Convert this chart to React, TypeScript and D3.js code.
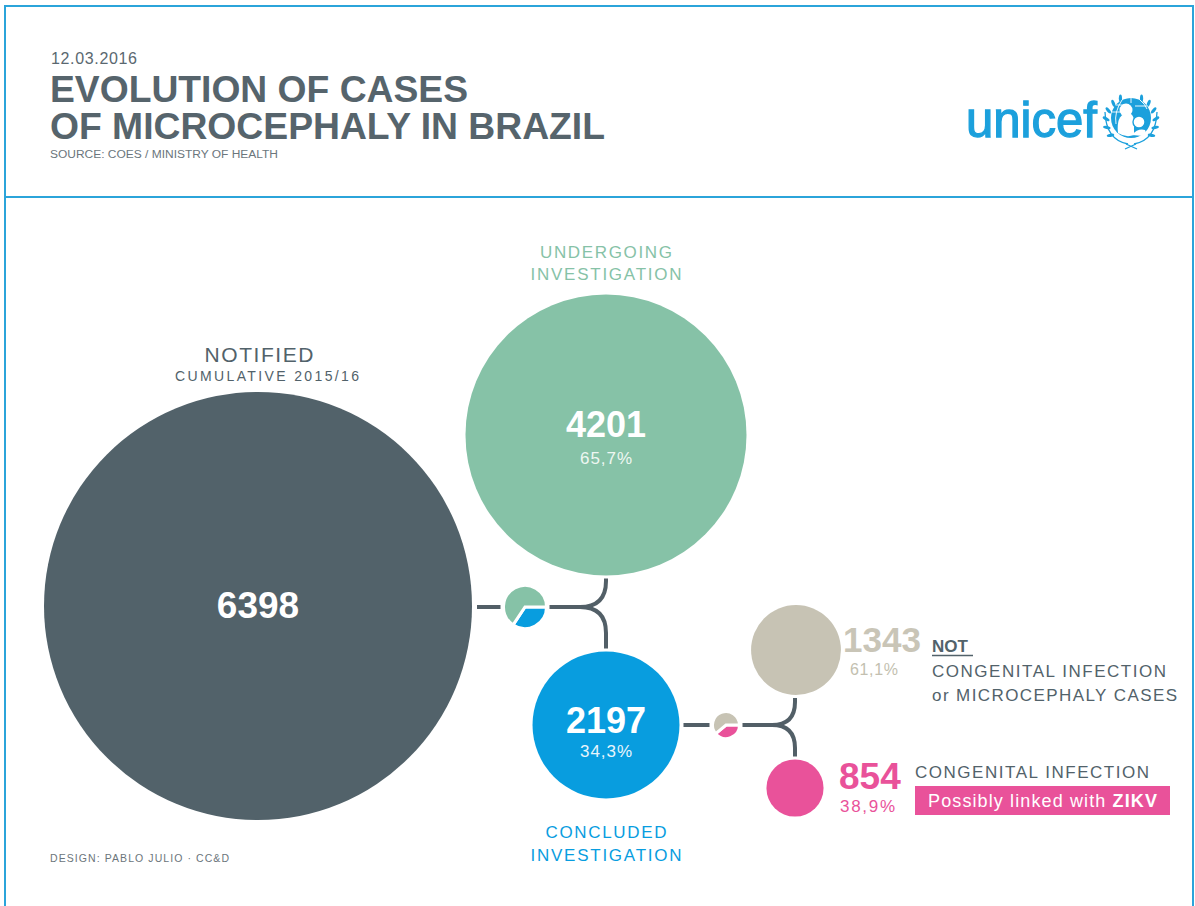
import React from 'react';
import * as d3 from 'd3';

const categories = ['NOTIFIED', 'UNDERGOING INVESTIGATION', 'CONCLUDED INVESTIGATION', 'NOT CONGENITAL INFECTION', 'CONGENITAL INFECTION'];
const caseValues = [6398, 4201, 2197, 1343, 854];
const percentLabels = ['', '65,7%', '34,3%', '61,1%', '38,9%'];

const W = 1195;
const H = 906;
const FONT = '"Liberation Sans", Arial, Helvetica, sans-serif';
const DARK = '#52626a';
const LINE = '#525f67';
const BORDER = '#2ba4da';
const UNICEF = '#1ca0dc';
const colors = ['#52626a', '#86c2a7', '#089ddf', '#c7c3b4', '#e9529a'];
const centers: [number, number][] = [[258, 606], [606, 435], [606, 725], [796, 650], [795, 788]];

const rScale = d3.scaleLinear().domain([0, d3.max(caseValues) as number]).range([0, 214]);

const pieGen = d3.pie<number>().sort(null).startAngle(Math.PI / 2).endAngle(Math.PI / 2 + 2 * Math.PI);

const MiniPie = ({ cx, cy, radius, idx }: { cx: number; cy: number; radius: number; idx: number[] }) => {
  const arcs = pieGen(idx.map(i => caseValues[i]));
  const arc = d3.arc<d3.PieArcDatum<number>>().innerRadius(0).outerRadius(radius);
  return (
    <g transform={`translate(${cx},${cy})`}>
      {arcs.map((a, k) => (
        <path key={k} d={arc(a) || ''} fill={colors[idx[k]]} stroke="#fff" strokeWidth={3} strokeLinejoin="miter" />
      ))}
    </g>
  );
};

const forkPath = (x0: number, jx: number, y: number, ex: number, yUp: number, yDown: number) => {
  const p = d3.path();
  const k = ex - jx;
  p.moveTo(x0, y);
  p.lineTo(jx, y);
  p.quadraticCurveTo(ex, y, ex, y - k);
  p.lineTo(ex, yUp);
  p.moveTo(jx, y);
  p.quadraticCurveTo(ex, y, ex, y + k);
  p.lineTo(ex, yDown);
  return p.toString();
};

const Emblem = ({ cx, cy }: { cx: number; cy: number }) => {
  const leaves = d3.range(6);
  return (
    <g transform={`translate(${cx},${cy})`} fill={UNICEF}>
      {[-1, 1].map(s => (
        <g key={s} transform={`scale(${s},1)`}>
          <path d="M -3 26 Q -25 22 -26 -6" fill="none" stroke={UNICEF} strokeWidth={1.3} />
          {leaves.map(i => {
            const deg = 215 - i * 20;
            const a = deg * Math.PI / 180;
            const x = Math.cos(a) * 25;
            const y = -Math.sin(a) * 25 + 3;
            return <ellipse key={i} cx={x} cy={y} rx={1.6} ry={3.8} transform={`rotate(${90 - deg + 25},${x},${y})`} />;
          })}
        </g>
      ))}
      <circle r={20} />
      <path d="M -19 -6 H -4 M -15 -13 H -2 M -9 -18 Q -17 -6 -15 6 M 0 -20 V -15 M 9 -18 Q 14 -14 16 -9 M 4 -12 H 17" stroke="#fff" strokeWidth={0.9} fill="none" />
      <path d="M -13 15 Q -15 -2 -5 -5 Q 2 -6 3 2 L 3 17 Q -5 20 -13 15 Z" fill="#fff" />
      <circle cx={-5} cy={-8} r={6.5} fill="#fff" />
      <circle cx={8} cy={4} r={6} fill="#fff" stroke={UNICEF} strokeWidth={1.4} />
      <path d="M 1 17 Q 7 10 14 12 Q 16 15 12 18 Z" fill="#fff" />
      <path d="M -5 26 L 6 31 M 5 26 L -6 31" stroke={UNICEF} strokeWidth={1.3} />
    </g>
  );
};

export default function App() {
  const radii = caseValues.map(v => rScale(v));
  const [c0, c1, c2, c3, c4] = centers;
  const pie1 = { cx: 525, cy: 607, r: 21.5 };
  const pie2 = { cx: 726, cy: 725, r: 13.5 };

  return (
    <div style={{ position: 'absolute', left: 0, top: 0 }}>
      <svg width={W} height={H} style={{ display: 'block', fontFamily: FONT }}>
        <rect width={W} height={H} fill="#fff" />
        {/* frame */}
        <path d={`M 5 ${H + 2} V 6 H 1193 V ${H + 2} M 5 197 H 1193`} fill="none" stroke={BORDER} strokeWidth={2} />

        {/* header */}
        <text x={51} y={64} fontSize={16} fill="#5a6870" textLength={86}>12.03.2016</text>
        <text x={50} y={102} fontSize={37} fontWeight="bold" fill="#56646c" textLength={418} lengthAdjust="spacingAndGlyphs">EVOLUTION OF CASES</text>
        <text x={50} y={139} fontSize={37} fontWeight="bold" fill="#56646c" textLength={555} lengthAdjust="spacingAndGlyphs">OF MICROCEPHALY IN BRAZIL</text>
        <text x={50} y={158} fontSize={10} fill="#6b767c" textLength={228} lengthAdjust="spacingAndGlyphs">SOURCE: COES / MINISTRY OF HEALTH</text>

        <text x={966} y={137} fontSize={50} fill={UNICEF} stroke={UNICEF} strokeWidth={1.3} textLength={131} lengthAdjust="spacingAndGlyphs">unicef</text>
        <Emblem cx={1131} cy={118} />

        {/* connectors */}
        <line x1={c0[0] + radii[0] + 5} x2={pie1.cx - pie1.r - 3} y1={pie1.cy} y2={pie1.cy} stroke={LINE} strokeWidth={4} />
        <path d={forkPath(pie1.cx + pie1.r + 3, 580, pie1.cy, c1[0], c1[1] + radii[1] + 3, c2[1] - radii[2] - 3)} fill="none" stroke={LINE} strokeWidth={4} />
        <line x1={c2[0] + radii[2] + 4} x2={pie2.cx - pie2.r - 3} y1={pie2.cy} y2={pie2.cy} stroke={LINE} strokeWidth={4} />
        <path d={forkPath(pie2.cx + pie2.r + 3, 772, pie2.cy, c4[0], c3[1] + radii[3] + 3, c4[1] - radii[4] - 3)} fill="none" stroke={LINE} strokeWidth={4} />

        {/* circles */}
        {caseValues.map((v, i) => (
          <circle key={categories[i]} cx={centers[i][0]} cy={centers[i][1]} r={radii[i]} fill={colors[i]} />
        ))}
        <MiniPie cx={pie1.cx} cy={pie1.cy} radius={pie1.r} idx={[2, 1]} />
        <MiniPie cx={pie2.cx} cy={pie2.cy} radius={pie2.r} idx={[4, 3]} />

        {/* notified */}
        <text x={259} y={362} fontSize={21} fill={DARK} textAnchor="middle" textLength={109}>NOTIFIED</text>
        <text x={267} y={381} fontSize={14} fill={DARK} textAnchor="middle" textLength={184}>CUMULATIVE 2015/16</text>
        <text x={c0[0]} y={618} fontSize={37} fontWeight="bold" fill="#fff" textAnchor="middle">{caseValues[0]}</text>

        {/* undergoing */}
        <text x={c1[0]} y={258} fontSize={17} fill={colors[1]} textAnchor="middle" textLength={132}>UNDERGOING</text>
        <text x={c1[0]} y={280} fontSize={17} fill={colors[1]} textAnchor="middle" textLength={151}>INVESTIGATION</text>
        <text x={c1[0]} y={437} fontSize={36} fontWeight="bold" fill="#fff" textAnchor="middle">{caseValues[1]}</text>
        <text x={c1[0]} y={464} fontSize={17} fill="#eef7f2" textAnchor="middle" textLength={52}>{percentLabels[1]}</text>

        {/* concluded */}
        <text x={c2[0]} y={733} fontSize={36} fontWeight="bold" fill="#fff" textAnchor="middle">{caseValues[2]}</text>
        <text x={c2[0]} y={757} fontSize={17} fill="#e8f5fc" textAnchor="middle" textLength={52}>{percentLabels[2]}</text>
        <text x={c2[0]} y={838} fontSize={17} fill={colors[2]} textAnchor="middle" textLength={121}>CONCLUDED</text>
        <text x={c2[0]} y={861} fontSize={17} fill={colors[2]} textAnchor="middle" textLength={151}>INVESTIGATION</text>

        {/* not congenital */}
        <text x={843} y={652} fontSize={35} fontWeight="bold" fill="#c9c5b7">{caseValues[3]}</text>
        <text x={850} y={675} fontSize={16} fill="#c3bfb0" textLength={48}>{percentLabels[3]}</text>
        <text x={932} y={652} fontSize={17} fontWeight="bold" fill={DARK}>NOT</text>
        <line x1={932} x2={973} y1={655.5} y2={655.5} stroke={DARK} strokeWidth={1.5} />
        <text x={932} y={677} fontSize={17} fill={DARK} textLength={234}>CONGENITAL INFECTION</text>
        <text x={932} y={701} fontSize={17} fill={DARK} textLength={245}>or MICROCEPHALY CASES</text>

        {/* congenital */}
        <text x={839} y={789} fontSize={37} fontWeight="bold" fill={colors[4]}>{caseValues[4]}</text>
        <text x={840} y={812} fontSize={17} fill={colors[4]} textLength={55}>{percentLabels[4]}</text>
        <text x={915} y={778} fontSize={17} fill={DARK} textLength={234}>CONGENITAL INFECTION</text>
        <rect x={915} y={786} width={255} height={29} fill={colors[4]} />
        <text x={928} y={807} fontSize={18} fill="#fff" textLength={229}>
          Possibly linked with <tspan fontWeight="bold">ZIKV</tspan>
        </text>

        <text x={50} y={862} fontSize={10.5} fill="#6b757b" textLength={179}>DESIGN:  PABLO JULIO · CC&amp;D</text>
      </svg>
    </div>
  );
}
